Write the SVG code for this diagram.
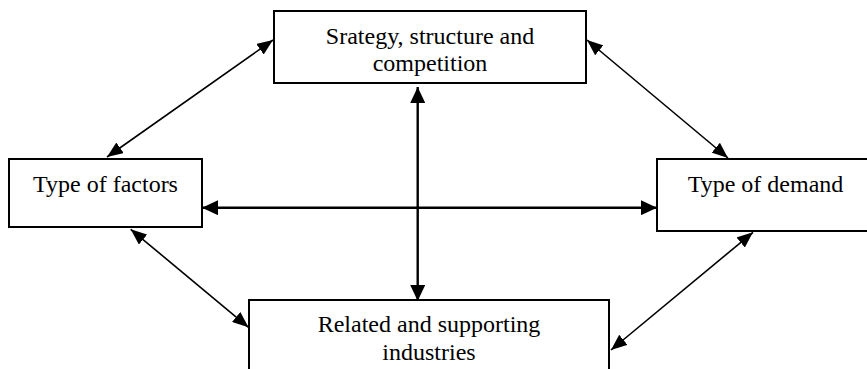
<svg xmlns="http://www.w3.org/2000/svg" width="867" height="369" viewBox="0 0 867 369">
<style>
.box{fill:#fff;stroke:#000;stroke-width:2}
.t{font-family:"Liberation Serif","Times New Roman",serif;font-size:24px;fill:#000;text-anchor:middle}
.thin{stroke:#000;stroke-width:1.6;fill:none;marker-start:url(#ah);marker-end:url(#ah)}
.thick{stroke:#000;stroke-width:2.4;fill:none;marker-start:url(#ah2);marker-end:url(#ah2)}
</style>
<defs>
<marker id="ah" markerUnits="userSpaceOnUse" viewBox="0 0 16 13" refX="16" refY="6.5" markerWidth="16" markerHeight="13" orient="auto-start-reverse">
<path d="M0,0 L16,6.5 L0,13 Z" fill="#000"/>
</marker>
<marker id="ah2" markerUnits="userSpaceOnUse" viewBox="0 0 16 15" refX="16" refY="7.5" markerWidth="16" markerHeight="15" orient="auto-start-reverse">
<path d="M0,0 L16,7.5 L0,15 Z" fill="#000"/>
</marker>
</defs>
<rect width="867" height="369" fill="#fff"/>
<g id="node-strategy">
<rect class="box" x="274" y="11" width="312" height="72"/>
<text class="t" x="430" y="44">Srategy, structure and</text>
<text class="t" x="430" y="71">competition</text>
</g>
<g id="node-factors">
<rect class="box" x="9" y="159" width="193" height="68"/>
<text class="t" x="105.5" y="192">Type of factors</text>
</g>
<g id="node-demand">
<rect class="box" x="657" y="159" width="220" height="72"/>
<text class="t" x="765.5" y="192">Type of demand</text>
</g>
<g id="node-related">
<rect class="box" x="249" y="300" width="360" height="80"/>
<text class="t" x="429" y="332">Related and supporting</text>
<text class="t" x="429" y="360">industries</text>
</g>
<g id="connectors">
<line class="thick" x1="417.7" y1="87" x2="417.7" y2="301"/>
<line class="thick" x1="202" y1="207.7" x2="657" y2="207.7"/>
<line class="thin" x1="273" y1="40" x2="107" y2="157"/>
<line class="thin" x1="587" y1="40" x2="728" y2="158"/>
<line class="thin" x1="130.7" y1="229.3" x2="248.5" y2="327.3"/>
<line class="thin" x1="753" y1="232.3" x2="611" y2="350"/>
</g>
</svg>
